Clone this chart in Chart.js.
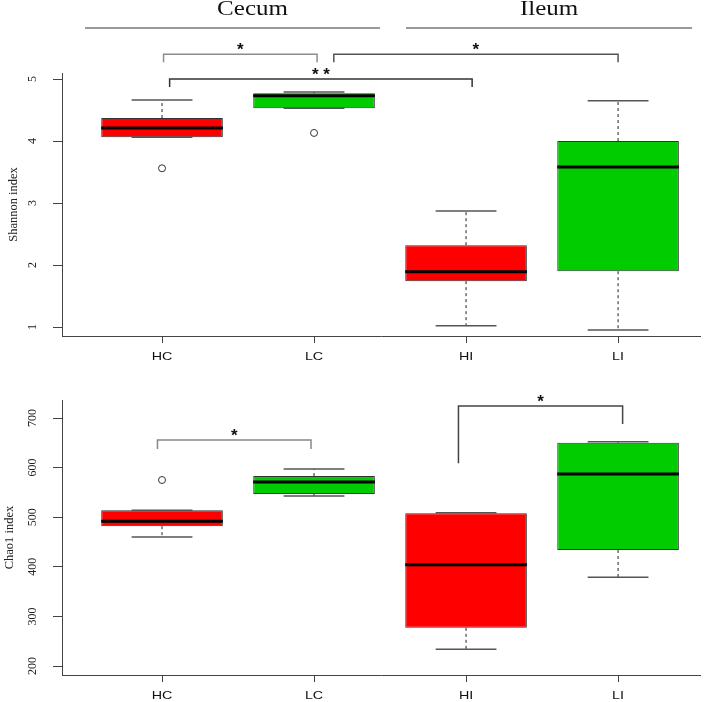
<!DOCTYPE html>
<html lang="en">
<head>
<meta charset="UTF-8">
<title>Shannon and Chao1 index</title>
<script src="https://cdn.jsdelivr.net/npm/chart.js"></script>
<style>
  body { margin: 0; background: #fff; }
  #wrap { position: relative; width: 714px; height: 702px; }
  #shannonChart { position: absolute; left: 0; top: 0; }
  #chaoChart { position: absolute; left: 0; top: 370px; }
</style>
</head>
<body>
<div id="wrap">
  <canvas id="shannonChart" width="714" height="370"></canvas>
  <canvas id="chaoChart" width="714" height="332"></canvas>
</div>
<script>
const groups = ['HC', 'LC', 'HI', 'LI'];
const boxColors = ['#ff0000', '#00cc00', '#ff0000', '#00cc00'];

// Shannon index (box stats)
const shannonMin = [4.06, 4.53, 1.02, 0.95];
const shannonQ1 = [4.06, 4.53, 1.74, 1.90];
const shannonMedian = [4.21, 4.73, 1.89, 3.58];
const shannonQ3 = [4.37, 4.77, 2.32, 4.00];
const shannonMax = [4.66, 4.79, 2.87, 4.65];
const shannonOutliers = [[3.56], [4.13], [], []];
const shannonTicks = [1, 2, 3, 4, 5];

// Chao1 index
const chaoMin = [460, 543, 234, 379];
const chaoQ1 = [482, 547, 277, 434];
const chaoMedian = [492, 571, 404, 587];
const chaoQ3 = [514, 583, 508, 650];
const chaoMax = [514, 597, 509, 652];
const chaoOutliers = [[575], [], [], []];
const chaoTicks = [200, 300, 400, 500, 600, 700];

// significance: from, to, mark
const shannonSig = [['HC', 'LC', '*'], ['LC', 'LI', '*'], ['HC', 'HI', '* *']];
const chaoSig = [['HC', 'LC', '*'], ['HI', 'LI', '*']];

// sections over the top panel
const sections = [['Cecum', 'HC', 'LC'], ['Ileum', 'HI', 'LI']];

// where the brackets sit (value units), kept apart from the data
const shannonBracketPos = [
  { y: 5.40, yl: 5.27, yr: 5.27, dx0: 0.01, dx1: 0.02, color: '#8c8c8c', w: 1.5 },
  { y: 5.40, yl: 5.27, yr: 5.27, dx0: 0.13, dx1: 0.0, color: '#555', w: 1.5 },
  { y: 5.00, yl: 4.87, yr: 4.87, dx0: 0.05, dx1: 0.04, color: '#333', w: 1.5 }
];
const chaoBracketPos = [
  { y: 655.6, yl: 637.5, yr: 637.5, dx0: -0.03, dx1: -0.02, color: '#888', w: 1.5 },
  { y: 724.2, yl: 609, yr: 688, dx0: -0.05, dx1: 0.03, color: '#444', w: 1.5 }
];

const serif = '"Liberation Serif", "Times New Roman", serif';
const sans = '"Liberation Sans", Arial, sans-serif';

function line(ctx, x0, y0, x1, y1) {
  ctx.beginPath();
  ctx.moveTo(x0, y0);
  ctx.lineTo(x1, y1);
  ctx.stroke();
}

// text a bit wider than the font, the source image is stretched sideways
function wideText(ctx, text, x, y, sx) {
  ctx.save();
  ctx.translate(x, y);
  ctx.scale(sx, 1);
  ctx.fillText(text, 0, 0);
  ctx.restore();
}

const boxExtras = {
  id: 'boxExtras',
  afterDatasetsDraw(chart, args, o) {
    const { ctx, scales: { x, y } } = chart;
    const meta = chart.getDatasetMeta(0);
    ctx.save();
    groups.forEach((g, i) => {
      const half = meta.data[i].width / 2;
      const cap = half / 2;
      const cx = x.getPixelForValue(i + 1);
      const yMax = y.getPixelForValue(o.max[i]);
      const yMin = y.getPixelForValue(o.min[i]);
      ctx.lineWidth = 1;
      ctx.strokeStyle = '#222';
      ctx.setLineDash([3, 3]);
      line(ctx, cx, y.getPixelForValue(o.q3[i]), cx, yMax);
      line(ctx, cx, y.getPixelForValue(o.q1[i]), cx, yMin);
      ctx.setLineDash([]);
      ctx.strokeStyle = '#555';
      ctx.lineWidth = 1.5;
      line(ctx, cx - cap, yMax, cx + cap, yMax);
      line(ctx, cx - cap, yMin, cx + cap, yMin);
      const ym = y.getPixelForValue(o.median[i]);
      ctx.strokeStyle = '#000';
      ctx.lineWidth = 3;
      line(ctx, cx - half, ym, cx + half, ym);
    });
    ctx.restore();
  },
  afterDraw(chart, args, o) {
    const { ctx, chartArea, scales: { x, y } } = chart;
    ctx.save();
    ctx.fillStyle = '#222';
    ctx.textAlign = 'center';
    ctx.textBaseline = 'middle';
    // y tick labels, rotated like R's default
    ctx.font = '12px ' + serif;
    o.ticks.forEach(v => {
      ctx.save();
      ctx.translate(33, y.getPixelForValue(v));
      ctx.rotate(-Math.PI / 2);
      ctx.fillText(String(v), 0, 0);
      ctx.restore();
    });
    ctx.font = '12.5px ' + serif;
    ctx.save();
    ctx.translate(o.titleX, (chartArea.top + chartArea.bottom) / 2);
    ctx.rotate(-Math.PI / 2);
    ctx.fillText(o.title, 0, 0);
    ctx.restore();

    // group labels under the x axis
    ctx.fillStyle = '#111';
    ctx.font = '11px ' + sans;
    groups.forEach((g, i) => wideText(ctx, g, x.getPixelForValue(i + 1), chartArea.bottom + 21, 1.3));

    // significance brackets
    o.sig.forEach((s, i) => {
      const p = o.pos[i];
      const x0 = x.getPixelForValue(groups.indexOf(s[0]) + 1 + p.dx0);
      const x1 = x.getPixelForValue(groups.indexOf(s[1]) + 1 + p.dx1);
      const yb = y.getPixelForValue(p.y);
      ctx.strokeStyle = p.color;
      ctx.lineWidth = p.w;
      ctx.beginPath();
      ctx.moveTo(x0, y.getPixelForValue(p.yl));
      ctx.lineTo(x0, yb);
      ctx.lineTo(x1, yb);
      ctx.lineTo(x1, y.getPixelForValue(p.yr));
      ctx.stroke();
      ctx.fillStyle = '#111';
      ctx.font = 'bold 17px ' + sans;
      ctx.fillText(s[2], (x0 + x1) / 2, yb - 4);
    });

    // Cecum / Ileum header
    if (o.sections) {
      o.sections.forEach((s, i) => {
        const x0 = x.getPixelForValue(groups.indexOf(s[1]) + 1) - (i === 0 ? 77 : 60);
        const x1 = x.getPixelForValue(groups.indexOf(s[2]) + 1) + (i === 0 ? 66 : 74);
        ctx.strokeStyle = '#999';
        ctx.lineWidth = 2;
        line(ctx, x0, 28, x1, 28);
        ctx.fillStyle = '#111';
        ctx.font = '20px ' + serif;
        wideText(ctx, s[0], (x0 + x1) / 2 + (i === 0 ? 20 : 0), 10, 1.25);
      });
    }
    ctx.restore();
  }
};

function makeChart(id, cfg) {
  const boxes = groups.map((g, i) => ({ x: i + 1, y: [cfg.q1[i], cfg.q3[i]] }));
  const outs = [];
  cfg.outliers.forEach((list, i) => list.forEach(v => outs.push({ x: i + 1, y: v })));
  return new Chart(document.getElementById(id), {
    type: 'bar',
    data: {
      datasets: [{
        type: 'bar',
        data: boxes,
        backgroundColor: boxColors,
        borderColor: '#333',
        borderWidth: 1,
        borderSkipped: false,
        barPercentage: 0.8,
        categoryPercentage: 1
      }, {
        type: 'scatter',
        data: outs,
        pointStyle: 'circle',
        radius: 3.5,
        borderColor: '#333',
        backgroundColor: '#fff',
        borderWidth: 1
      }]
    },
    options: {
      responsive: false,
      animation: false,
      layout: { padding: { top: cfg.padTop, right: 14, left: 0, bottom: 0 } },
      plugins: {
        legend: { display: false },
        tooltip: { enabled: false },
        boxExtras: {
          min: cfg.min, q1: cfg.q1, median: cfg.median, q3: cfg.q3, max: cfg.max,
          ticks: cfg.ticks, title: cfg.title, titleX: cfg.titleX,
          sig: cfg.sig, pos: cfg.pos, sections: cfg.sections
        }
      },
      scales: {
        x: {
          type: 'linear',
          offset: false,
          min: 0.342,
          max: 4.539,
          afterBuildTicks: s => { s.ticks = groups.map((g, i) => ({ value: i + 1 })); },
          afterFit: s => { s.height = cfg.xHeight; },
          ticks: { display: false },
          grid: { offset: false, drawOnChartArea: false, tickLength: 7, color: '#444' },
          border: { color: '#444', width: 1 }
        },
        y: {
          min: cfg.yMin,
          max: cfg.yMax,
          afterBuildTicks: s => { s.ticks = cfg.ticks.map(v => ({ value: v })); },
          afterFit: s => { s.width = 62; },
          ticks: { display: false },
          grid: { drawOnChartArea: false, tickLength: 9, color: '#444' },
          border: { color: '#444', width: 1 }
        }
      }
    },
    plugins: [boxExtras]
  });
}

makeChart('shannonChart', {
  min: shannonMin, q1: shannonQ1, median: shannonMedian, q3: shannonQ3, max: shannonMax,
  outliers: shannonOutliers, ticks: shannonTicks,
  yMin: 0.855, yMax: 5.097, padTop: 73, xHeight: 34,
  title: 'Shannon index', titleX: 14,
  sig: shannonSig, pos: shannonBracketPos, sections: sections
});

makeChart('chaoChart', {
  min: chaoMin, q1: chaoQ1, median: chaoMedian, q3: chaoQ3, max: chaoMax,
  outliers: chaoOutliers, ticks: chaoTicks,
  yMin: 181.9, yMax: 736.3, padTop: 30, xHeight: 27,
  title: 'Chao1 index', titleX: 10,
  sig: chaoSig, pos: chaoBracketPos, sections: null
});
</script>
</body>
</html>
